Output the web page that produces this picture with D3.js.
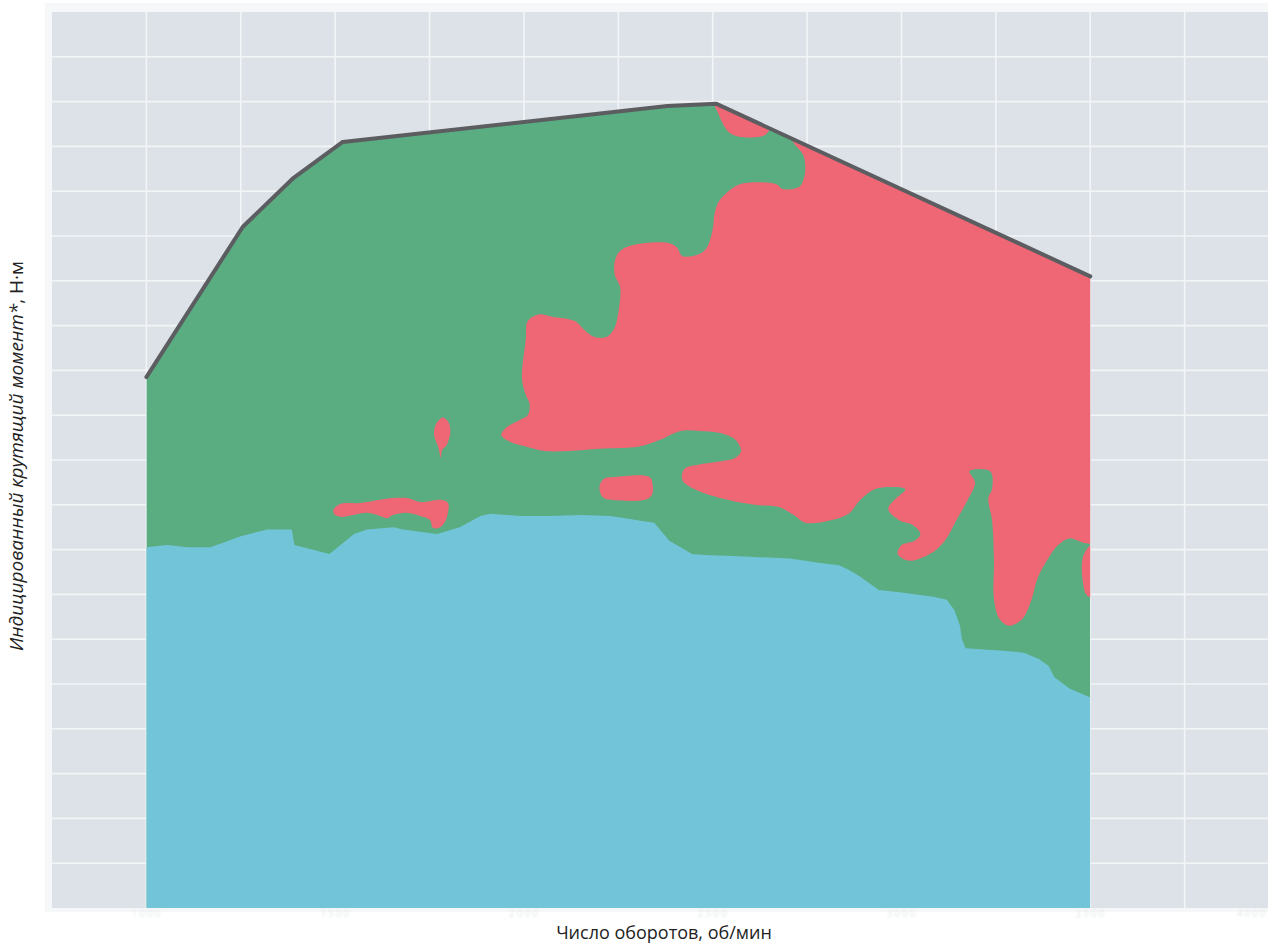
<!DOCTYPE html>
<html lang="ru">
<head>
<meta charset="utf-8">
<title>Индицированный крутящий момент</title>
<script src="https://cdn.jsdelivr.net/npm/d3@7/dist/d3.min.js"></script>
<style>
  html, body { margin: 0; padding: 0; background: #ffffff; }
  svg { display: block; }
  text { font-family: "Open Sans", "Noto Sans", sans-serif; }
</style>
</head>
<body>
<svg id="chart" width="1268" height="944"></svg>
<script>
// Engine speed ticks (об/мин) and torque grid step (Н·м)
const rpmTicks = [1000, 1500, 2000, 2500, 3000, 3500, 4000];
const rpmGrid = [1000, 1250, 1500, 1750, 2000, 2250, 2500, 2750, 3000, 3250, 3500, 3750];
const torqueGrid = [100, 200, 300, 400, 500, 600, 700, 800, 900, 1000,
                    1100, 1200, 1300, 1400, 1500, 1600, 1700, 1800, 1900];

// Full-load torque envelope [rpm, Н·м]
const envelope = [
  [1000, 1185], [1255, 1520], [1390, 1630], [1520, 1710],
  [2380, 1790], [2510, 1795], [3500, 1410]
];

// Upper edge of the lower (blue) zone [rpm, Н·м]
const blueZoneTop = [
  [1000, 805], [1055, 810], [1110, 805], [1170, 805], [1250, 830], [1320, 845],
  [1385, 845], [1392, 810], [1485, 790], [1550, 835], [1585, 845], [1655, 850],
  [1680, 845], [1770, 835], [1830, 850], [1885, 875], [1910, 880], [1990, 875],
  [2070, 875], [2150, 877], [2230, 875], [2305, 865], [2345, 860], [2365, 840],
  [2385, 820], [2415, 805], [2445, 790], [2480, 788], [2570, 785], [2705, 780],
  [2785, 770], [2835, 765], [2860, 755], [2890, 740], [2915, 725], [2940, 710],
  [2995, 705], [3085, 695], [3120, 688], [3140, 665], [3155, 630], [3160, 600],
  [3170, 580], [3260, 575], [3325, 570], [3365, 555], [3390, 540], [3405, 515],
  [3445, 490], [3500, 470]
];

// Upper (red) zone outline; parts above the envelope are clipped away
const redZoneMain = [
  [2690, 1800], [3560, 1600], [3560, 820], [3485, 815], [3445, 825], [3415, 810],
  [3385, 775], [3360, 735], [3345, 690], [3320, 645], [3285, 630], [3260, 645],
  [3245, 690], [3245, 775], [3240, 865], [3230, 915], [3240, 935], [3235, 975],
  [3180, 975], [3195, 950], [3175, 910], [3145, 865], [3115, 820], [3075, 790],
  [3020, 775], [2990, 790], [3000, 810], [3035, 820], [3050, 835], [3030, 855],
  [2995, 865], [2965, 890], [2980, 910], [3010, 935], [2970, 940], [2930, 935],
  [2890, 910], [2860, 880], [2810, 865], [2745, 860], [2715, 877], [2675, 895],
  [2610, 900], [2545, 910], [2465, 930], [2420, 955], [2425, 980], [2465, 990],
  [2505, 995], [2560, 1005], [2575, 1020], [2560, 1045], [2520, 1060], [2465, 1065],
  [2415, 1065], [2360, 1045], [2305, 1030], [2200, 1025], [2120, 1020], [2055, 1020],
  [2005, 1030], [1965, 1040], [1940, 1055], [1950, 1070], [1990, 1090], [2010, 1100],
  [2015, 1125], [2005, 1145], [1995, 1180], [2005, 1270], [2010, 1310], [2040, 1325],
  [2075, 1320], [2135, 1310], [2160, 1290], [2185, 1275], [2220, 1275], [2240, 1295],
  [2250, 1330], [2255, 1385], [2240, 1415], [2245, 1455], [2270, 1475], [2380, 1485],
  [2405, 1475], [2420, 1455], [2465, 1460], [2485, 1475], [2500, 1515], [2505, 1550],
  [2515, 1575], [2535, 1595], [2570, 1615], [2625, 1620], [2670, 1615], [2685, 1605],
  [2730, 1610], [2740, 1625], [2745, 1645], [2740, 1680], [2710, 1715]
];

// Smaller red patches
const redZonePeak = [
  [2495, 1800], [2505, 1790], [2545, 1730], [2605, 1720], [2645, 1730],
  [2660, 1800], [2600, 1840], [2500, 1850]
];
const redZoneDrop = [
  [1785, 1095], [1800, 1085], [1805, 1062], [1795, 1033], [1783, 1022],
  [1780, 1005], [1773, 1029], [1762, 1056], [1767, 1080]
];
const redZoneStrip = [
  [1495, 888], [1513, 902], [1566, 904], [1619, 911], [1653, 915], [1690, 915],
  [1725, 906], [1751, 908], [1778, 911], [1799, 904], [1799, 884], [1791, 862],
  [1778, 850], [1759, 848], [1751, 866], [1725, 875], [1690, 882], [1653, 877],
  [1638, 870], [1619, 875], [1585, 882], [1548, 877], [1521, 873], [1500, 877]
];
const redZoneIsland = [
  [2200, 940], [2212, 958], [2241, 962], [2333, 962], [2341, 944],
  [2339, 922], [2320, 911], [2233, 911], [2209, 917]
];
const redZoneEdge = [
  [3479, 777], [3490, 800], [3505, 812], [3505, 694], [3490, 699], [3480, 732]
];

const xTitle = "Число оборотов, об/мин";
const yTitleItalic = "Индицированный крутящий момент*";
const yTitleUnit = ", Н·м";

const colors = {
  plotBg: "#dce2e7",
  grid: "#f3f5f7",
  blue: "#72c4d8",
  green: "#5aad81",
  red: "#ef6675",
  envelope: "#5c5d60",
  title: "#222222",
  tick: "#e3e7ea"
};

const svg = d3.select("#chart");
const W = 1268, H = 944;
const plot = { left: 52, top: 12, right: 1268, bottom: 908 };

const x = d3.scaleLinear().domain([750, 4000]).range([plot.left, 1279]);
const y = d3.scaleLinear().domain([0, 2000]).range([plot.bottom, plot.top]);

const defs = svg.append("defs");
defs.append("filter").attr("id", "soft")
  .attr("x", "-20%").attr("y", "-30%").attr("width", "140%").attr("height", "160%")
  .append("feGaussianBlur").attr("stdDeviation", 1.3);

// Pale frame and plot background
svg.append("rect")
  .attr("x", plot.left - 7).attr("y", plot.top - 9)
  .attr("width", W - plot.left + 7).attr("height", plot.bottom - plot.top + 13)
  .attr("fill", "#f6f7f8");
svg.append("rect")
  .attr("x", plot.left).attr("y", plot.top)
  .attr("width", plot.right - plot.left).attr("height", plot.bottom - plot.top)
  .attr("fill", colors.plotBg);

// Grid
const grid = svg.append("g");
grid.selectAll("line.v").data(rpmGrid).join("line")
  .attr("class", "v")
  .attr("x1", d => x(d)).attr("x2", d => x(d))
  .attr("y1", plot.top).attr("y2", plot.bottom)
  .attr("stroke", colors.grid).attr("stroke-width", 1.6);
grid.selectAll("line.h").data(torqueGrid).join("line")
  .attr("class", "h")
  .attr("x1", plot.left).attr("x2", plot.right)
  .attr("y1", d => y(d)).attr("y2", d => y(d))
  .attr("stroke", colors.grid).attr("stroke-width", 1.6);

// Operating area under the envelope
const envArea = d3.area()
  .x(d => x(d[0])).y0(y(0)).y1(d => y(d[1]));

defs.append("clipPath").attr("id", "envClip")
  .append("path").attr("d", envArea(envelope));

const zones = svg.append("g").attr("clip-path", "url(#envClip)");

zones.append("path")
  .attr("d", envArea(envelope))
  .attr("fill", colors.green);

zones.append("path")
  .attr("d", d3.area().x(d => x(d[0])).y0(y(0)).y1(d => y(d[1]))(blueZoneTop))
  .attr("fill", colors.blue);

const blob = d3.line()
  .x(d => x(d[0])).y(d => y(d[1]))
  .curve(d3.curveCatmullRomClosed.alpha(0.5));

zones.selectAll("path.red")
  .data([redZoneMain, redZonePeak, redZoneDrop, redZoneStrip, redZoneIsland, redZoneEdge])
  .join("path")
  .attr("class", "red")
  .attr("d", blob)
  .attr("fill", colors.red);

// Envelope line
svg.append("path")
  .datum(envelope)
  .attr("d", d3.line().x(d => x(d[0])).y(d => y(d[1])))
  .attr("fill", "none")
  .attr("stroke", colors.envelope)
  .attr("stroke-width", 4)
  .attr("stroke-linejoin", "round")
  .attr("stroke-linecap", "round");

// X axis labels (faint, softened)
const xAxis = d3.axisBottom(x)
  .tickValues(rpmTicks)
  .tickFormat(d3.format("d"))
  .tickSize(0)
  .tickPadding(2);
const gx = svg.append("g")
  .attr("transform", `translate(0,${plot.bottom})`)
  .call(xAxis);
gx.select(".domain").remove();
gx.selectAll("text")
  .attr("fill", colors.tick)
  .attr("font-size", 10)
  .attr("letter-spacing", 2)
  .attr("filter", "url(#soft)");
// last label sits at the page edge
gx.selectAll(".tick")
  .filter(d => x(d) > W - 20)
  .select("text")
  .attr("text-anchor", "end")
  .attr("x", W - 1 - x(rpmTicks[rpmTicks.length - 1]));

// Axis titles
svg.append("text")
  .attr("x", 664).attr("y", 939)
  .attr("text-anchor", "middle")
  .attr("font-size", 18)
  .attr("fill", colors.title)
  .text(xTitle);

const yt = svg.append("text")
  .attr("transform", "translate(23,456) rotate(-90)")
  .attr("text-anchor", "middle")
  .attr("font-size", 19)
  .attr("fill", colors.title);
yt.append("tspan").attr("font-style", "italic").text(yTitleItalic);
yt.append("tspan").text(yTitleUnit);
</script>
</body>
</html>
